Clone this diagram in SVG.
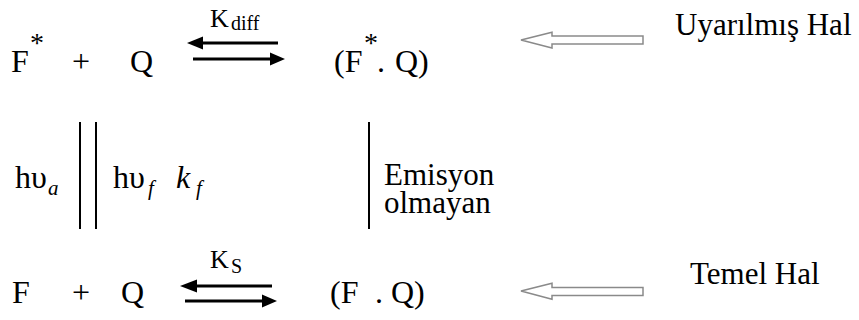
<svg xmlns="http://www.w3.org/2000/svg" width="859" height="320" viewBox="0 0 859 320" font-family="'Liberation Serif', 'Times New Roman', serif">
<style>
text{font-family:'Liberation Serif','Times New Roman',serif;fill:#000}
.m{font-size:32px}
.l{font-size:31px}
.sup{font-size:28px}
.k{font-size:26px}
.sub{font-size:20px}
.it{font-style:italic}
.si{font-size:21px;font-style:italic}
.ar{stroke:#000;stroke-width:3;fill:none}
.hd{fill:#000}
.vl{stroke:#000;stroke-width:2}
.ho{fill:#fff;stroke:#8a8a8a;stroke-width:1.5}
</style>
<rect width="859" height="320" fill="#fff"/>
<g id="top-F-star"><text class="m" x="11" y="72">F<tspan class="sup" x="30" y="52">*</tspan></text></g>
<g id="top-plus"><text class="m" x="72" y="72">+</text></g>
<g id="top-Q"><text class="m" x="130" y="72">Q</text></g>
<g id="top-complex"><text class="m" x="334" y="72">(F<tspan class="sup" x="364" y="52">*</tspan><tspan x="377" y="72">.</tspan><tspan x="395" y="72">Q)</tspan></text></g>
<g id="kdiff"><text class="k" x="210" y="27">K<tspan class="sub" x="231" y="30">diff</tspan></text></g>
<g id="excited-label"><text class="l" x="675" y="35">Uyarılmış Hal</text></g>
<g id="absorb"><text class="m" x="15" y="188">hυ<tspan class="si" x="48" y="195">a</tspan></text></g>
<g id="fluor"><text class="m" x="113" y="188">hυ<tspan class="si" x="148" y="195">f</tspan><tspan class="it" x="176" y="188">k</tspan><tspan class="si" x="196" y="195">f</tspan></text></g>
<g id="nonrad"><text class="l" x="384" y="185">Emisyon<tspan x="384" y="213">olmayan</tspan></text></g>
<g id="bot-F"><text class="m" x="12" y="303">F</text></g>
<g id="bot-plus"><text class="m" x="72" y="303">+</text></g>
<g id="bot-Q"><text class="m" x="121" y="303">Q</text></g>
<g id="bot-complex"><text class="m" x="330" y="303">(F<tspan x="375">.</tspan><tspan x="391">Q)</tspan></text></g>
<g id="ks"><text class="k" x="210" y="268">K<tspan class="sub" x="231" y="273">S</tspan></text></g>
<g id="ground-label"><text class="l" x="690" y="284">Temel Hal</text></g>
<g id="connectors">
<line class="ar" x1="202" y1="43" x2="278" y2="43"/><polygon class="hd" points="187,43 203,36.5 203,49.5"/>
<line class="ar" x1="193" y1="59" x2="271" y2="59"/><polygon class="hd" points="285,59 270,52.5 270,65.5"/>
<line class="ar" x1="196" y1="286" x2="272" y2="286"/><polygon class="hd" points="180,286 197,279.5 197,292.5"/>
<line class="ar" x1="185" y1="301" x2="263" y2="301"/><polygon class="hd" points="277,301 262,294.5 262,307.5"/>
<line class="vl" x1="80" y1="122" x2="80" y2="229"/>
<line class="vl" x1="96" y1="122" x2="96" y2="229"/>
<line class="vl" x1="369" y1="122" x2="369" y2="229"/>
<polygon class="ho" points="521,40 552,32.3 552,36 643,36 643,44 552,44 552,48 521,40"/>
<polygon class="ho" points="521,291 552,283.3 552,287.5 643,287.5 643,295.5 552,295.5 552,299.3 521,291"/>
</g>
</svg>
